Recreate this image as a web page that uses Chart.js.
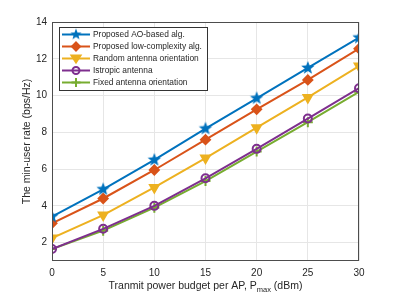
<!DOCTYPE html>
<html>
<head>
<meta charset="utf-8">
<script src="https://cdn.jsdelivr.net/npm/chart.js@4.4.0/dist/chart.umd.min.js"></script>
<style>
  html, body { margin: 0; padding: 0; background: #fff; }
  #wrap { width: 397px; height: 297px; }
</style>
</head>
<body>
<div id="wrap"><canvas id="rateChart" width="397" height="297"></canvas></div>
<script>
// power budget per AP (dBm)
var powerBudget = [0, 5, 10, 15, 20, 25, 30];

// min-user rate (bps/Hz)
var aoBased = [3.42, 4.9, 6.5, 8.2, 9.85, 11.5, 13.15];
var lowComplexity = [3.05, 4.4, 5.95, 7.6, 9.25, 10.85, 12.55];
var randomOrient = [2.25, 3.5, 5.0, 6.6, 8.25, 9.9, 11.6];
var isotropic = [1.65, 2.75, 4.0, 5.5, 7.1, 8.75, 10.4];
var fixedOrient = [1.65, 2.65, 3.9, 5.35, 6.95, 8.55, 10.2];

var seriesNames = ["Proposed AO-based alg.", "Proposed low-complexity alg.", "Random antenna orientation", "Istropic antenna", "Fixed antenna orientation"];
var yTicks = [2, 4, 6, 8, 10, 12, 14];

// filled pentagram marker
function starMarker(color, r) {
  var c = document.createElement("canvas");
  var s = Math.ceil(r * 2 + 4);
  c.width = s; c.height = s;
  var g = c.getContext("2d");
  g.beginPath();
  for (var i = 0; i < 10; i++) {
    var rr = i % 2 === 0 ? r : r * 0.42;
    var a = -Math.PI / 2 + i * Math.PI / 5;
    var px = s / 2 + rr * Math.cos(a), py = s / 2 + rr * Math.sin(a);
    if (i === 0) g.moveTo(px, py); else g.lineTo(px, py);
  }
  g.closePath();
  g.fillStyle = color;
  g.fill();
  return c;
}

var colors = ["#0072BD", "#D95319", "#EDB120", "#7E2F8E", "#77AC30"];
var styles = [
  { pointStyle: starMarker("#0072BD", 7), radius: 7, bg: "#0072BD", rot: 0 },
  { pointStyle: "rectRot", radius: 4.5, bg: "#D95319", rot: 0 },
  { pointStyle: "triangle", radius: 5, bg: "#EDB120", rot: 180 },
  { pointStyle: "circle", radius: 4, bg: "rgba(255,255,255,0)", rot: 0 },
  { pointStyle: "cross", radius: 5, bg: "#77AC30", rot: 0 }
];
var legendStar = starMarker("#0072BD", 6);
var values = [aoBased, lowComplexity, randomOrient, isotropic, fixedOrient];

var datasets = values.map(function (v, i) {
  return {
    label: seriesNames[i],
    data: powerBudget.map(function (x, k) { return { x: x, y: v[k] }; }),
    borderColor: colors[i],
    backgroundColor: styles[i].bg,
    borderWidth: 2,
    pointStyle: styles[i].pointStyle,
    pointRadius: styles[i].radius,
    pointRotation: styles[i].rot,
    pointBorderWidth: 2,
    pointBorderColor: colors[i],
    pointBackgroundColor: styles[i].bg,
    tension: 0
  };
});

var FONT = "Liberation Sans, Arial, sans-serif";

// box, custom legend and x title with subscript
var matlabLook = {
  id: "matlabLook",
  afterDraw: function (chart) {
    var ctx = chart.ctx, a = chart.chartArea;
    ctx.save();
    ctx.strokeStyle = "#4d4d4d";
    ctx.lineWidth = 1;
    ctx.strokeRect(a.left + 0.5, a.top + 0.5, a.right - a.left - 1, a.bottom - a.top - 1);

    // legend
    var lx = a.left + 7, ly = a.top + 5, lw = 148, lh = 63;
    ctx.fillStyle = "#fff";
    ctx.fillRect(lx, ly, lw, lh);
    ctx.strokeStyle = "#333";
    ctx.strokeRect(lx + 0.5, ly + 0.5, lw, lh);
    ctx.font = "8.4px " + FONT;
    ctx.textBaseline = "middle";
    for (var i = 0; i < seriesNames.length; i++) {
      var ry = ly + 7.5 + i * 12;
      var mx = lx + 17;
      ctx.strokeStyle = colors[i];
      ctx.lineWidth = 2;
      ctx.beginPath();
      ctx.moveTo(lx + 3, ry);
      ctx.lineTo(lx + 31, ry);
      ctx.stroke();
      ctx.fillStyle = styles[i].bg;
      ctx.strokeStyle = colors[i];
      ctx.beginPath();
      if (i === 1) {
        ctx.moveTo(mx, ry - 4); ctx.lineTo(mx + 4, ry); ctx.lineTo(mx, ry + 4); ctx.lineTo(mx - 4, ry); ctx.closePath();
        ctx.fill(); ctx.stroke();
      } else if (i === 2) {
        ctx.moveTo(mx - 4.5, ry - 3); ctx.lineTo(mx + 4.5, ry - 3); ctx.lineTo(mx, ry + 4); ctx.closePath();
        ctx.fill(); ctx.stroke();
      } else if (i === 3) {
        ctx.arc(mx, ry, 3.5, 0, Math.PI * 2); ctx.stroke();
      } else if (i === 4) {
        ctx.moveTo(mx, ry - 4.5); ctx.lineTo(mx, ry + 4.5); ctx.moveTo(mx - 4.5, ry); ctx.lineTo(mx + 4.5, ry); ctx.stroke();
      } else {
        ctx.drawImage(legendStar, mx - legendStar.width / 2, ry - legendStar.height / 2);
      }
      ctx.fillStyle = "#262626";
      ctx.textAlign = "left";
      ctx.fillText(seriesNames[i], lx + 34, ry + 0.5);
    }

    // x axis title with subscript
    var main = "Tranmit power budget per AP, P";
    var sub = "max";
    var tail = " (dBm)";
    ctx.font = "10.5px " + FONT;
    var w1 = ctx.measureText(main).width, w3 = ctx.measureText(tail).width;
    ctx.font = "7.5px " + FONT;
    var w2 = ctx.measureText(sub).width;
    var cx = (a.left + a.right) / 2;
    var x0 = cx - (w1 + w2 + w3) / 2;
    var ty = 289;
    ctx.fillStyle = "#262626";
    ctx.textAlign = "left";
    ctx.textBaseline = "alphabetic";
    ctx.font = "10.5px " + FONT;
    ctx.fillText(main, x0, ty);
    ctx.font = "7.5px " + FONT;
    ctx.fillText(sub, x0 + w1, ty + 3);
    ctx.font = "10.5px " + FONT;
    ctx.fillText(tail, x0 + w1 + w2, ty);
    ctx.restore();
  }
};

new Chart(document.getElementById("rateChart"), {
  type: "line",
  data: { datasets: datasets },
  options: {
    responsive: false,
    animation: false,
    devicePixelRatio: 1,
    layout: { padding: { top: 22, right: 38, left: 0, bottom: 0 } },
    plugins: {
      legend: { display: false },
      tooltip: { enabled: false }
    },
    scales: {
      x: {
        type: "linear",
        min: 0,
        max: 30,
        afterBuildTicks: function (s) { s.ticks = powerBudget.map(function (v) { return { value: v }; }); },
        afterFit: function (s) { s.height = 36; },
        grid: { color: "#e6e6e6", drawTicks: false, lineWidth: 1 },
        border: { display: false },
        ticks: { color: "#262626", font: { family: FONT, size: 10 }, padding: 6, maxRotation: 0 }
      },
      y: {
        type: "linear",
        min: 1,
        max: 14,
        afterBuildTicks: function (s) { s.ticks = yTicks.map(function (v) { return { value: v }; }); },
        afterFit: function (s) { s.width = 52; },
        grid: { color: "#e6e6e6", drawTicks: false, lineWidth: 1 },
        border: { display: false },
        ticks: { color: "#262626", font: { family: FONT, size: 10 }, padding: 5 },
        title: { display: true, text: "The min-user rate (bps/Hz)", color: "#262626", font: { family: FONT, size: 10.5 }, padding: { top: 21, bottom: 0 } }
      }
    }
  },
  plugins: [matlabLook]
});
</script>
</body>
</html>
